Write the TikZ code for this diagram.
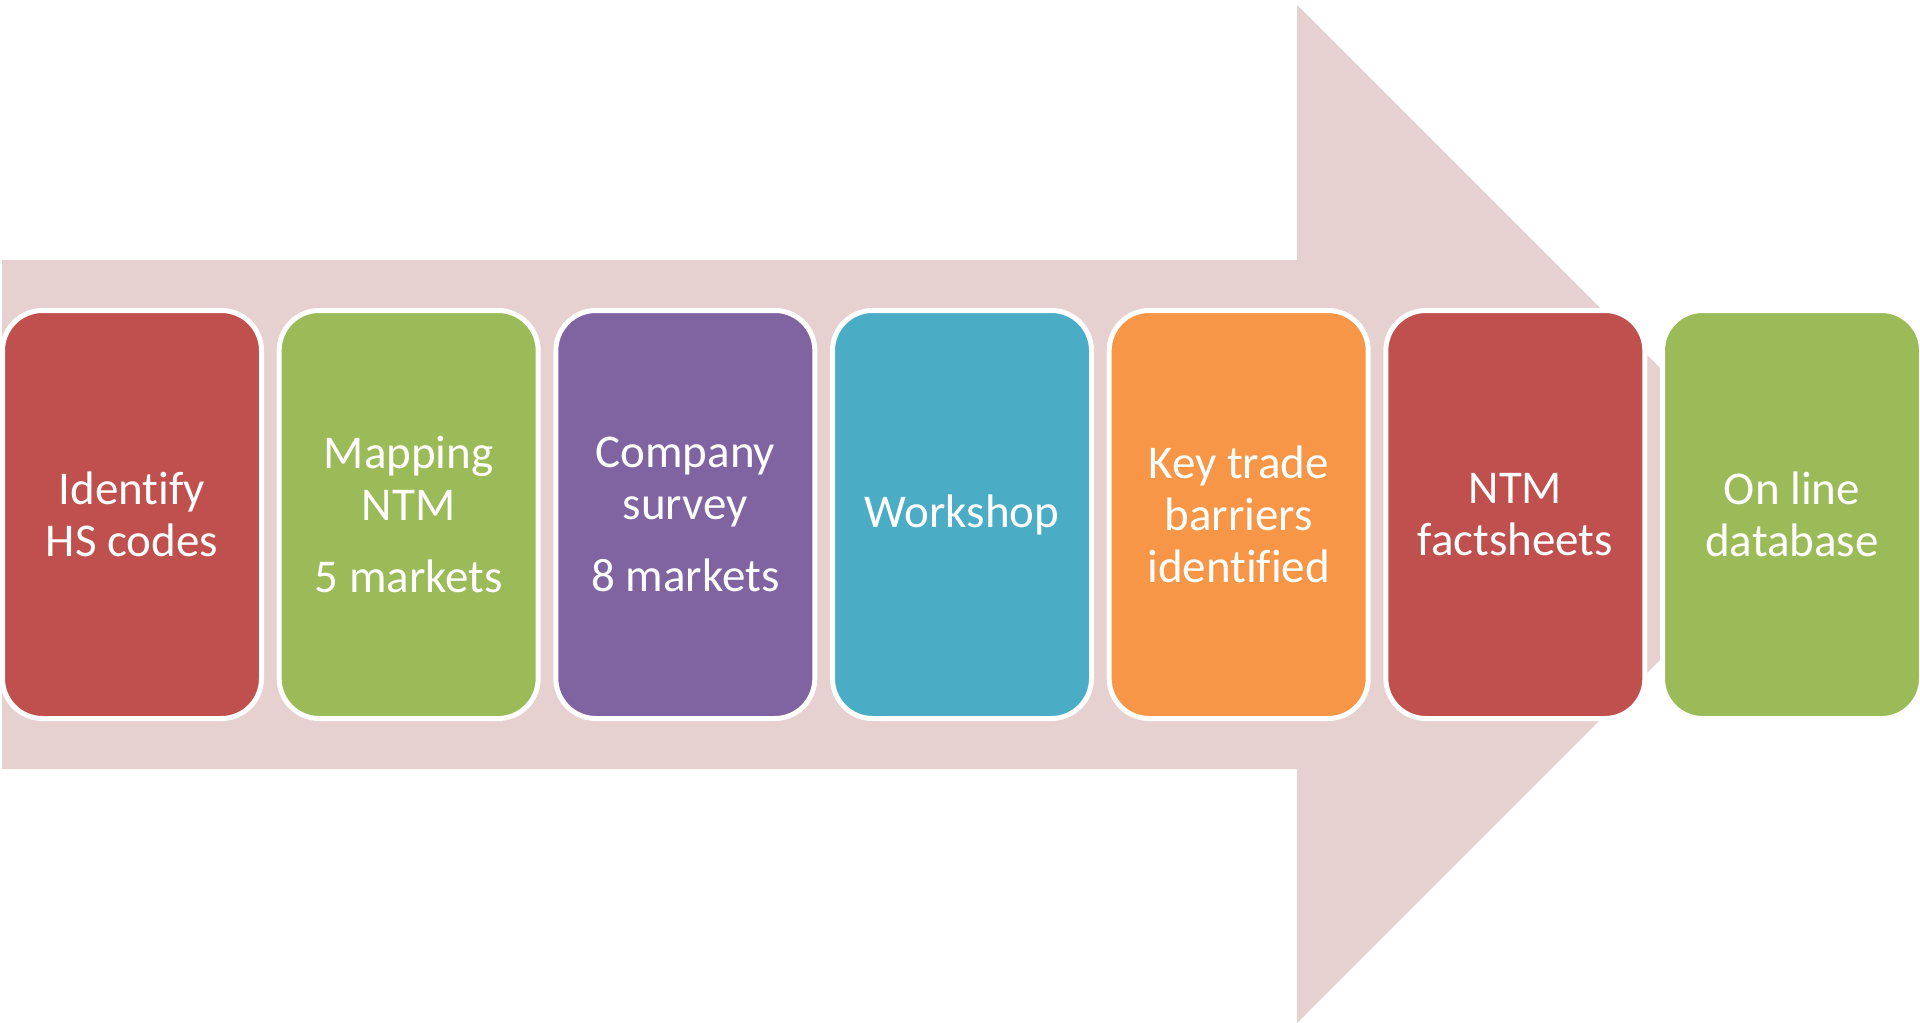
\documentclass[tikz,border=0pt]{standalone}
\usepackage{fontspec}
\setmainfont{Carlito}[Ligatures={NoCommon}]
\definecolor{arrowpink}{RGB}{230,208,208}
\definecolor{stepred}{HTML}{C0504D}
\definecolor{stepgreen}{HTML}{9BBB59}
\definecolor{steppurple}{HTML}{8064A2}
\definecolor{stepteal}{HTML}{4BACC6}
\definecolor{steporange}{HTML}{F79646}
\tikzset{
  stepbox/.style={draw=white, line width=2.5pt, rounded corners=20pt,
    minimum width=129.5pt, minimum height=204pt, inner sep=0pt,
    text=white, align=center, font=\fontsize{23.5}{26}\selectfont}
}
\begin{document}
\begin{tikzpicture}[x=0.5pt, y=-0.5pt]
	\useasboundingbox (0,0) rectangle (1920,1022);
	
	% Draw the big arrow behind the steps
	\fill[arrowpink] (2,260) -- (1297,260) -- (1297,5) -- (1806,514)
		-- (1297,1023) -- (1297,769) -- (2,769) -- cycle;
	
	% Draw the steps from left to right
	\node[stepbox, fill=stepred] (hscodes) at (132,514.5) {Identify\\HS codes};
	\node[stepbox, fill=stepgreen] (mapping) at (408.67,514.5) {Mapping\\NTM\\[10pt]5 markets};
	\node[stepbox, fill=steppurple] (survey) at (685.33,514.5) {Company\\survey\\[10pt]8 markets};
	\node[stepbox, fill=stepteal] (workshop) at (962,514.5) {Workshop};
	\node[stepbox, fill=steporange] (barriers) at (1238.67,514.5) {Key trade\\barriers\\identified};
	\node[stepbox, fill=stepred] (factsheets) at (1515.33,514.5) {NTM\\factsheets};
	\node[stepbox, fill=stepgreen] (database) at (1792,514.5) {On line\\database};
\end{tikzpicture}
\end{document}
